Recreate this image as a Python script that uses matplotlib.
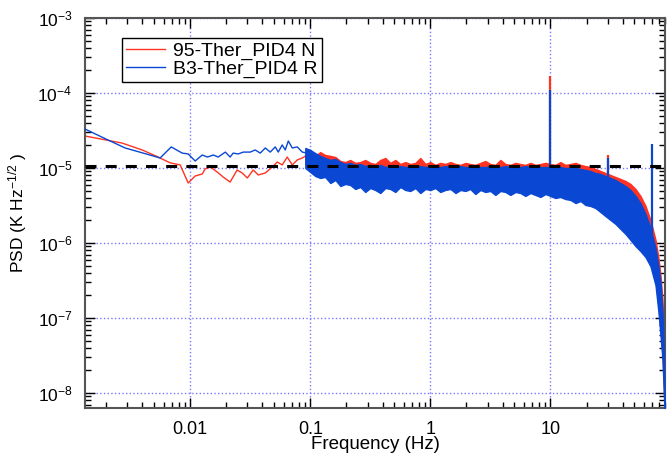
import matplotlib
matplotlib.use('Agg')
import matplotlib.pyplot as plt
import numpy as np
from matplotlib.ticker import FixedLocator, FixedFormatter, LogLocator, NullFormatter

plt.rcParams['font.family'] = ['Liberation Sans', 'DejaVu Sans']
plt.rcParams['mathtext.fontset'] = 'custom'
plt.rcParams['mathtext.rm'] = 'Liberation Sans'
plt.rcParams['mathtext.it'] = 'Liberation Sans:italic'
plt.rcParams['mathtext.bf'] = 'Liberation Sans:bold'

# ---------------- data ----------------
series_names = ['95-Ther_PID4 N', 'B3-Ther_PID4 R']
reference_level = 1.05e-5

# sparse low-frequency part (Hz, K/sqrt(Hz))
freq_red_lf = [0.00133, 0.00271, 0.00398, 0.00541, 0.00681, 0.00825, 0.00962, 0.0110,
               0.0126, 0.0133, 0.0147, 0.0168, 0.0188, 0.0215, 0.0246, 0.0271, 0.0299,
               0.0335, 0.0369, 0.0422, 0.0482, 0.0531, 0.0584, 0.0643, 0.0708, 0.0779,
               0.0858, 0.0944, 0.106]
psd_red_lf = [2.67e-5, 2.15e-5, 1.74e-5, 1.40e-5, 1.17e-5, 1.10e-5, 6.31e-6, 7.82e-6,
              8.32e-6, 9.70e-6, 1.03e-5, 8.84e-6, 7.59e-6, 6.50e-6, 9.40e-6, 8.58e-6, 7.36e-6,
              9.40e-6, 8.07e-6, 8.58e-6, 1.03e-5, 1.20e-5, 1.10e-5, 1.40e-5, 1.10e-5, 1.28e-5,
              1.36e-5, 1.49e-5, 1.28e-5]

freq_blue_lf = [0.00133, 0.00207, 0.00287, 0.00406, 0.00562, 0.00695, 0.00858, 0.00962,
                0.0110, 0.0126, 0.0139, 0.0156, 0.0171, 0.0196, 0.0215, 0.0228, 0.0251,
                0.0277, 0.0316, 0.0348, 0.0383, 0.0422, 0.0464, 0.0511, 0.0541, 0.0584,
                0.0619, 0.0656, 0.0708, 0.0779, 0.0858, 0.0944]
psd_blue_lf = [3.31e-5, 2.36e-5, 1.85e-5, 1.58e-5, 1.36e-5, 1.91e-5, 1.58e-5, 1.54e-5,
               1.24e-5, 1.49e-5, 1.40e-5, 1.49e-5, 1.40e-5, 1.63e-5, 1.40e-5, 1.58e-5, 1.54e-5,
               1.63e-5, 1.63e-5, 1.74e-5, 1.58e-5, 1.85e-5, 1.63e-5, 1.91e-5, 1.63e-5, 2.03e-5,
               1.74e-5, 2.29e-5, 1.85e-5, 1.91e-5, 1.63e-5, 1.58e-5]

# dense part: envelope of the noisy spectra
freq_dense = [0.0909, 0.100, 0.110, 0.121, 0.133, 0.147, 0.162, 0.178, 0.196, 0.215,
              0.237, 0.261, 0.287, 0.316, 0.348, 0.383, 0.422, 0.464, 0.511, 0.562,
              0.619, 0.681, 0.750, 0.825, 0.909, 1.00, 1.10, 1.21, 1.33, 1.47,
              1.62, 1.78, 1.96, 2.15, 2.37, 2.61, 2.87, 3.16, 3.48, 3.83,
              4.22, 4.64, 5.11, 5.62, 6.19, 6.81, 7.50, 8.25, 9.09, 10.0,
              11.0, 12.1, 13.3, 14.7, 16.2, 17.8, 19.6, 21.5, 23.7, 26.1,
              28.7, 31.6, 34.8, 38.3, 42.2, 46.4, 51.1, 56.2, 61.9, 68.1,
              75.0, 79.4, 82.5, 85.8, 88.5, 90.0]
red_upper = [1.49e-5, 1.74e-5, 1.45e-5, 1.63e-5, 1.49e-5, 1.45e-5, 1.40e-5, 1.24e-5, 1.20e-5, 1.28e-5,
             1.17e-5, 1.20e-5, 1.28e-5, 1.17e-5, 1.13e-5, 1.28e-5, 1.36e-5, 1.17e-5, 1.28e-5, 1.13e-5,
             1.20e-5, 1.13e-5, 1.17e-5, 1.36e-5, 1.13e-5, 1.20e-5, 1.10e-5, 1.17e-5, 1.13e-5, 1.20e-5,
             1.13e-5, 1.10e-5, 1.17e-5, 1.13e-5, 1.10e-5, 1.17e-5, 1.24e-5, 1.13e-5, 1.10e-5, 1.28e-5,
             1.13e-5, 1.10e-5, 1.17e-5, 1.13e-5, 1.10e-5, 1.17e-5, 1.10e-5, 1.13e-5, 1.17e-5, 1.13e-5,
             1.10e-5, 1.20e-5, 1.10e-5, 1.13e-5, 1.17e-5, 1.10e-5, 1.06e-5, 1.03e-5, 9.70e-6, 9.12e-6,
             8.58e-6, 8.07e-6, 7.59e-6, 7.14e-6, 6.71e-6, 6.12e-6, 5.25e-6, 4.24e-6, 3.12e-6, 2.03e-6,
             1.10e-6, 6.3e-7, 3.75e-7, 1.74e-7, 3.75e-8, 5.0e-9]
red_lower = [1.13e-5, 1.00e-5, 9.12e-6, 8.32e-6, 8.84e-6, 7.36e-6, 7.82e-6, 6.71e-6, 7.14e-6, 6.31e-6,
             6.92e-6, 5.75e-6, 6.51e-6, 5.58e-6, 6.31e-6, 5.41e-6, 6.12e-6, 5.75e-6, 6.31e-6, 5.58e-6,
             6.12e-6, 5.75e-6, 6.31e-6, 5.58e-6, 6.12e-6, 5.75e-6, 6.31e-6, 5.58e-6, 6.12e-6, 5.75e-6,
             5.94e-6, 5.41e-6, 5.94e-6, 5.58e-6, 5.94e-6, 5.41e-6, 5.75e-6, 5.25e-6, 5.75e-6, 5.25e-6,
             5.58e-6, 5.09e-6, 5.41e-6, 4.94e-6, 5.25e-6, 4.94e-6, 5.09e-6, 4.64e-6, 4.94e-6, 4.64e-6,
             4.79e-6, 4.37e-6, 4.50e-6, 4.11e-6, 4.24e-6, 3.86e-6, 3.86e-6, 3.52e-6, 3.31e-6, 2.93e-6,
             2.59e-6, 2.29e-6, 2.03e-6, 1.74e-6, 1.49e-6, 1.24e-6, 1.03e-6, 8.8e-7, 7.4e-7, 5.6e-7,
             3.21e-7, 1.49e-7, 6.9e-8, 3.21e-8, 9.4e-9, 4.5e-9]
blue_upper = [1.85e-5, 1.74e-5, 1.58e-5, 1.45e-5, 1.36e-5, 1.28e-5, 1.32e-5, 1.20e-5, 1.13e-5, 1.17e-5,
              1.10e-5, 1.13e-5, 1.06e-5, 1.10e-5, 1.03e-5, 1.10e-5, 1.03e-5, 1.06e-5, 1.03e-5, 1.06e-5,
              1.03e-5, 1.06e-5, 1.03e-5, 1.06e-5, 1.03e-5, 1.06e-5, 1.03e-5, 1.03e-5, 1.06e-5, 1.03e-5,
              1.03e-5, 1.06e-5, 1.03e-5, 1.03e-5, 1.06e-5, 1.03e-5, 1.03e-5, 1.06e-5, 1.03e-5, 1.03e-5,
              1.06e-5, 1.03e-5, 1.03e-5, 1.03e-5, 1.06e-5, 1.03e-5, 1.03e-5, 1.03e-5, 1.03e-5, 1.03e-5,
              1.03e-5, 1.03e-5, 1.00e-5, 1.00e-5, 1.00e-5, 9.70e-6, 9.40e-6, 9.12e-6, 8.58e-6, 8.32e-6,
              7.82e-6, 7.36e-6, 6.92e-6, 6.31e-6, 5.75e-6, 5.09e-6, 4.24e-6, 3.41e-6, 2.44e-6, 1.58e-6,
              8.6e-7, 4.9e-7, 3.04e-7, 1.20e-7, 2.37e-8, 4.5e-9]
blue_lower = [1.00e-5, 8.84e-6, 7.82e-6, 7.36e-6, 7.59e-6, 6.31e-6, 6.92e-6, 5.75e-6, 6.12e-6, 5.94e-6,
              5.25e-6, 5.58e-6, 4.79e-6, 5.41e-6, 5.09e-6, 4.64e-6, 5.41e-6, 5.25e-6, 4.79e-6, 5.58e-6,
              5.09e-6, 4.94e-6, 5.41e-6, 4.64e-6, 5.25e-6, 5.09e-6, 5.41e-6, 4.79e-6, 5.09e-6, 5.25e-6,
              4.64e-6, 5.09e-6, 4.94e-6, 5.25e-6, 4.50e-6, 5.09e-6, 4.79e-6, 4.94e-6, 4.37e-6, 4.94e-6,
              4.79e-6, 4.37e-6, 4.79e-6, 4.64e-6, 4.24e-6, 4.64e-6, 4.37e-6, 4.11e-6, 4.50e-6, 4.24e-6,
              3.98e-6, 4.11e-6, 3.86e-6, 3.75e-6, 3.41e-6, 3.63e-6, 3.21e-6, 3.12e-6, 2.93e-6, 2.59e-6,
              2.29e-6, 2.03e-6, 1.80e-6, 1.54e-6, 1.32e-6, 1.10e-6, 9.1e-7, 7.8e-7, 6.5e-7, 4.9e-7,
              2.75e-7, 1.20e-7, 6.0e-8, 2.75e-8, 8.1e-9, 4.0e-9]

# narrow spectral lines
spike_freq_red = [10.0, 30.0]
spike_base_red = [9.0e-6, 8.0e-6]
spike_top_red = [1.70e-4, 1.50e-5]
spike_freq_blue = [10.0, 30.0, 70.0]
spike_base_blue = [8.0e-6, 7.0e-6, 5.0e-7]
spike_top_blue = [1.10e-4, 1.36e-5, 2.09e-5]

x_ticks = [0.01, 0.1, 1, 10]
x_tick_labels = ['0.01', '0.1', '1', '10']

# ---------------- plot ----------------
RED = '#ff3322'
BLUE = '#0a48d4'

fig = plt.figure(figsize=(6.68, 4.54), dpi=100)
ax = fig.add_axes([85 / 668, 1 - 408 / 454, 580 / 668, 390 / 454])
ax.set_xscale('log')
ax.set_yscale('log')
ax.set_xlim(0.00133, 90)
ax.set_ylim(10 ** -8.2, 1e-3)

ax.set_axisbelow(True)
ax.grid(True, which='major', color='#7878ff', linestyle=':', linewidth=1.0)

# red series
ax.fill_between(freq_dense, red_lower, red_upper, color=RED, linewidth=1.0,
                edgecolor=RED, zorder=2)
ax.plot(freq_red_lf, psd_red_lf, color=RED, linewidth=1.0, zorder=2)
ax.vlines(spike_freq_red, spike_base_red, spike_top_red, color=RED, linewidth=1.6, zorder=2)

# blue series
ax.fill_between(freq_dense, blue_lower, blue_upper, color=BLUE, linewidth=1.0,
                edgecolor=BLUE, zorder=3)
ax.plot(freq_blue_lf, psd_blue_lf, color=BLUE, linewidth=1.0, zorder=3)
ax.vlines(spike_freq_blue, spike_base_blue, spike_top_blue, color=BLUE, linewidth=1.6, zorder=3)

# legend proxies
ax.plot([], [], color=RED, linewidth=1.0, label=series_names[0])
ax.plot([], [], color=BLUE, linewidth=1.0, label=series_names[1])

# reference level
ax.axhline(reference_level, color='black', linewidth=2.2, linestyle=(0, (3.6, 3.0)), zorder=4)

# ticks
ax.xaxis.set_major_locator(FixedLocator(x_ticks))
ax.xaxis.set_major_formatter(FixedFormatter(x_tick_labels))
ax.xaxis.set_minor_locator(LogLocator(base=10, subs=np.arange(2, 10), numticks=20))
ax.xaxis.set_minor_formatter(NullFormatter())
ax.yaxis.set_major_locator(LogLocator(base=10, numticks=12))
ax.yaxis.set_minor_locator(LogLocator(base=10, subs=np.arange(2, 10), numticks=20))
ax.yaxis.set_minor_formatter(NullFormatter())
ax.tick_params(which='both', direction='in', top=True, right=True, color='black', width=1.0)
ax.tick_params(which='major', length=7)
ax.tick_params(which='minor', length=4)
ax.tick_params(axis='x', which='major', labelsize=13, pad=9)
ax.tick_params(axis='y', which='major', labelsize=12.5, pad=9)

for sp in ax.spines.values():
    sp.set_color('#555555')
    sp.set_linewidth(1.5)

ax.set_xlabel('Frequency (Hz)', fontsize=13.5, labelpad=-1)
ax.set_ylabel('PSD (K Hz$^{-1/2}$ )', fontsize=12.5, labelpad=6)

leg = ax.legend(loc='upper left', bbox_to_anchor=((122 - 85) / 580, (408 - 38) / 390),
                borderaxespad=0, fontsize=14, frameon=True, fancybox=False,
                handlelength=2.0, handletextpad=0.4, borderpad=0.22, labelspacing=0.0)
leg.get_frame().set_edgecolor('black')
leg.get_frame().set_linewidth(1.0)
leg.get_frame().set_alpha(1.0)

fig.savefig('out.png', dpi=100)
